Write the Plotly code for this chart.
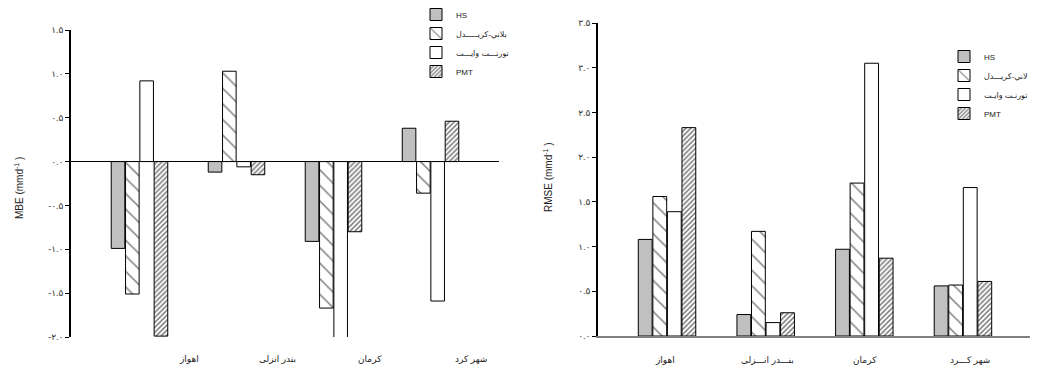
import plotly.graph_objects as go

# ---------------- data ----------------
stations_left = ["اهواز", "بندر انزلی", "کرمان", "شهر کرد"]
stations_right = ["اهواز", "بنـــدر انـــزلی", "کرمان", "شهر کـــرد"]

series_left_names = ["HS", "بلاني-كريـــــدل", "تورنـــت وايـــت", "PMT"]
series_right_names = ["HS", "لاني-كريـــدل", "تورنـت وايـت", "PMT"]

# MBE (mm d-1)
mbe_hs = [-0.99, -0.12, -0.91, 0.38]
mbe_bc = [-1.51, 1.03, -1.67, -0.36]
mbe_tw = [0.92, -0.06, -2.30, -1.59]
mbe_pmt = [-1.99, -0.15, -0.80, 0.46]

# RMSE (mm d-1)
rmse_hs = [1.08, 0.24, 0.97, 0.56]
rmse_bc = [1.56, 1.17, 1.71, 0.57]
rmse_tw = [1.39, 0.15, 3.05, 1.66]
rmse_pmt = [2.33, 0.26, 0.87, 0.61]

mbe_ticks = [1.5, 1.0, 0.5, 0.0, -0.5, -1.0, -1.5, -2.0]
mbe_ticktext = ["۱.۵", "۱.۰", "۰.۵", "۰.۰", "-۰.۵", "-۱.۰", "-۱.۵", "-۲.۰"]
rmse_ticks = [3.5, 3.0, 2.5, 2.0, 1.5, 1.0, 0.5, 0.0]
rmse_ticktext = ["۳.۵", "۳.۰", "۲.۵", "۲.۰", "۱.۵", "۱.۰", "۰.۵", "۰.۰"]

# ---------------- layout helpers ----------------
FONT = "Liberation Sans, Arial, DejaVu Sans, sans-serif"
OFF = 8                      # page body margin
W, H = 1038 - OFF, 368 - OFF


def px(p):
    return (p - OFF) / W


def py(p):
    return 1 - (p - OFF) / H


idx = list(range(len(stations_left)))

styles = [
    dict(color="#c0c0c0"),
    dict(color="white", pattern=dict(shape="\\", size=11, solidity=0.14, fgcolor="black", bgcolor="white")),
    dict(color="white"),
    dict(color="white", pattern=dict(shape="/", size=3.5, solidity=0.45, fgcolor="black", bgcolor="white")),
]

fig = go.Figure()

left_vals = [mbe_hs, mbe_bc, mbe_tw, mbe_pmt]
right_vals = [rmse_hs, rmse_bc, rmse_tw, rmse_pmt]

for name, vals, st in zip(series_left_names, left_vals, styles):
    fig.add_trace(go.Bar(
        x=idx, y=vals, name=name, xaxis="x", yaxis="y", legend="legend",
        marker=dict(line=dict(color="black", width=1), **st),
    ))
for name, vals, st in zip(series_right_names, right_vals, styles):
    fig.add_trace(go.Bar(
        x=idx, y=vals, name=name, xaxis="x2", yaxis="y2", legend="legend2",
        marker=dict(line=dict(color="black", width=1), **st),
    ))

tickfont = dict(family=FONT, size=9, color="#333")

left_label_offset = [0.51, 0.42, 0.38, 0.42]
right_label_offset = [-0.02, 0.02, 0.01, 0.07]

annotations = []
for i, (lab, off) in enumerate(zip(stations_left, left_label_offset)):
    annotations.append(dict(x=i + off, y=py(359), xref="x", yref="paper", text=lab,
                            xanchor="center", yanchor="middle",
                            showarrow=False, font=dict(family=FONT, size=9, color="#222")))
for i, (lab, off) in enumerate(zip(stations_right, right_label_offset)):
    annotations.append(dict(x=i + off, y=py(360), xref="x2", yref="paper", text=lab,
                            xanchor="center", yanchor="middle",
                            showarrow=False, font=dict(family=FONT, size=9, color="#222")))
annotations.append(dict(x=px(19), y=py(188), xref="paper", yref="paper",
                        xanchor="center", yanchor="middle",
                        text="MBE (mmd<sup>-1</sup> )", textangle=-90, showarrow=False,
                        font=dict(family=FONT, size=10, color="#222")))
annotations.append(dict(x=px(548), y=py(177), xref="paper", yref="paper",
                        xanchor="center", yanchor="middle",
                        text="RMSE (mmd<sup>-1</sup> )", textangle=-90, showarrow=False,
                        font=dict(family=FONT, size=10, color="#222")))

fig.update_layout(
    width=W, height=H,
    margin=dict(l=0, r=0, t=0, b=0, autoexpand=False),
    paper_bgcolor="white", plot_bgcolor="white",
    barmode="group", bargap=0.41, bargroupgap=0.05,
    font=dict(family=FONT, size=9, color="#222"),
    xaxis=dict(domain=[px(71), px(499)], range=[-0.706, 3.706], showline=False,
               showticklabels=False, ticks="", showgrid=False, zeroline=False, anchor="y"),
    yaxis=dict(domain=[py(337), py(30)], range=[-2.0, 1.5], tickvals=mbe_ticks,
               ticktext=mbe_ticktext, ticks="outside", ticklen=4, tickcolor="black",
               showline=True, linecolor="black", linewidth=1.5, showgrid=False,
               zeroline=True, zerolinecolor="black", zerolinewidth=1, tickfont=tickfont,
               anchor="x"),
    xaxis2=dict(domain=[px(598), px(1032)], range=[-0.70, 3.70], showline=True,
                linecolor="#808080", linewidth=1.5, showticklabels=False, ticks="",
                showgrid=False, zeroline=False, anchor="y2"),
    yaxis2=dict(domain=[py(336), py(23)], range=[0, 3.5], tickvals=rmse_ticks,
                ticktext=rmse_ticktext, ticks="outside", ticklen=4, tickcolor="black",
                showline=True, linecolor="black", linewidth=1.5, showgrid=False,
                zeroline=False, tickfont=tickfont, anchor="x2"),
    legend=dict(x=px(416), y=py(0), xanchor="left", yanchor="top", bgcolor="rgba(0,0,0,0)",
                font=dict(family=FONT, size=8, color="#222"), tracegroupgap=0),
    legend2=dict(x=px(944), y=py(42), xanchor="left", yanchor="top", bgcolor="rgba(0,0,0,0)",
                 font=dict(family=FONT, size=8, color="#222"), tracegroupgap=0),
    annotations=annotations,
)

fig.write_html("out.html")
